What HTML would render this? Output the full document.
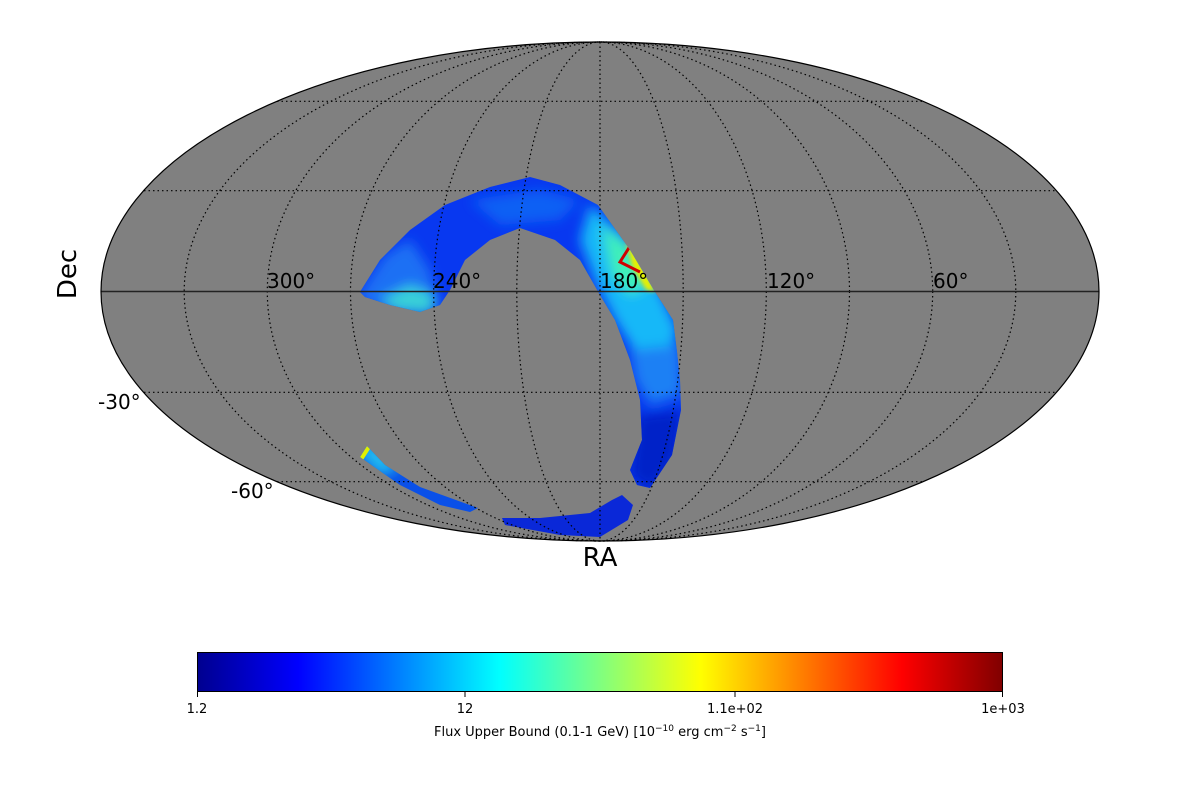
<!DOCTYPE html>
<html><head><meta charset="utf-8"><style>
body{margin:0;background:#fff;width:1200px;height:800px;overflow:hidden}
svg{display:block}
text{font-family:"DejaVu Sans","Liberation Sans",sans-serif}
</style></head><body>
<svg width="1200" height="800" viewBox="0 0 1200 800">
<defs>
<linearGradient id="jet" x1="0" x2="1" y1="0" y2="0">
<stop offset="0" stop-color="#00008f"/>
<stop offset="0.125" stop-color="#0000ff"/>
<stop offset="0.375" stop-color="#00ffff"/>
<stop offset="0.625" stop-color="#ffff00"/>
<stop offset="0.875" stop-color="#ff0000"/>
<stop offset="1" stop-color="#800000"/>
</linearGradient>
<filter id="bl" x="-20%" y="-20%" width="140%" height="140%"><feGaussianBlur stdDeviation="6"/></filter>
<filter id="bs" x="-20%" y="-20%" width="140%" height="140%"><feGaussianBlur stdDeviation="2"/></filter>
<clipPath id="ell"><ellipse cx="600" cy="291.5" rx="499" ry="249.5"/></clipPath>
<clipPath id="arcc"><polygon points="360,292 380,260 410,230 445,205 490,187 530,177 560,185 598,205 630,250 655,292 673,320 677,352 680,380 681,410 672,455 650,488 637,485 630,470 642,440 640,400 630,360 615,320 600,295 580,260 555,240 520,228 490,240 465,260 450,290 440,305 420,312 390,305 365,297"/></clipPath>
<clipPath id="smc"><polygon points="360,457 367,446 385,465 420,487 478,508 470,512 440,505 400,485"/></clipPath>
</defs>
<ellipse cx="600" cy="291.5" rx="499" ry="249.5" fill="#808080"/>
<g clip-path="url(#ell)">
<g clip-path="url(#arcc)">
<rect x="340" y="170" width="360" height="330" fill="#0838f0"/>
<g filter="url(#bl)">
<polygon fill="#1c70f4" points="355,300 385,255 410,240 430,270 440,310 400,315"/>
<polygon fill="#38d0d8" points="380,300 410,285 435,295 430,315 395,310"/>
<polygon fill="#1060f4" points="470,200 540,190 580,200 560,220 500,225"/>
<polygon fill="#18b8f8" points="590,205 630,240 660,290 678,330 670,355 640,360 615,320 595,280 580,240"/>
<polygon fill="#40f0b8" points="602,225 628,245 648,285 630,295 612,275"/>
<polygon fill="#1c80f4" points="630,350 680,345 682,395 650,405 635,380"/>
<polygon fill="#0020c8" points="638,415 682,410 676,460 650,492 630,475"/>
</g>
<polygon fill="#e8f000" filter="url(#bs)" points="626,242 634,248 650,280 656,292 646,290 632,266"/>
<polyline fill="none" stroke="#d00000" stroke-width="3" points="632,243 620,262 640,272"/>
</g>
<!-- bottom band -->
<polygon fill="#0a28d8" points="502,518 540,518 590,513 612,500 622,495 633,505 628,520 600,537 560,535 505,525"/>
<!-- small band -->
<g clip-path="url(#smc)">
<rect x="350" y="440" width="140" height="80" fill="#0a50e8"/>
<polygon fill="#20c0f0" filter="url(#bl)" points="355,450 372,442 400,470 380,475"/>
<polygon fill="#e0f000" points="360,457 367,446 370,449 363,460"/>
</g>
</g>
<g fill="none" stroke="#000" stroke-width="1.2" stroke-dasharray="1.5,3">
<ellipse cx="600" cy="291.5" rx="83.2" ry="249.5"/>
<ellipse cx="600" cy="291.5" rx="166.3" ry="249.5"/>
<ellipse cx="600" cy="291.5" rx="249.5" ry="249.5"/>
<ellipse cx="600" cy="291.5" rx="332.7" ry="249.5"/>
<ellipse cx="600" cy="291.5" rx="415.8" ry="249.5"/>
<line x1="600" y1="42" x2="600" y2="541"/>
<line x1="144" y1="190.7" x2="1056" y2="190.7"/>
<line x1="144" y1="392.3" x2="1056" y2="392.3"/>
<line x1="277" y1="101.3" x2="923" y2="101.3"/>
<line x1="277" y1="481.7" x2="923" y2="481.7"/>
</g>
<line x1="101" y1="291.5" x2="1099" y2="291.5" stroke="#222" stroke-width="1.5"/>
<ellipse cx="600" cy="291.5" rx="499" ry="249.5" fill="none" stroke="#000" stroke-width="1.2"/>
<g font-size="20" fill="#000">
<text x="267" y="288">300°</text>
<text x="433" y="288">240°</text>
<text x="600" y="288">180°</text>
<text x="767" y="288">120°</text>
<text x="933" y="288">60°</text>
<text x="98" y="409">-30°</text>
<text x="231" y="498">-60°</text>
</g>
<text x="600" y="566" font-size="26" text-anchor="middle">RA</text>
<text x="76" y="274" font-size="26" text-anchor="middle" transform="rotate(-90 76 274)">Dec</text>
<rect x="197.5" y="652.5" width="805" height="39" fill="url(#jet)" stroke="#000" stroke-width="1"/>
<g stroke="#000" stroke-width="1">
<line x1="197.5" y1="692" x2="197.5" y2="697"/><line x1="465" y1="692" x2="465" y2="697"/>
<line x1="735" y1="692" x2="735" y2="697"/><line x1="1002.5" y1="692" x2="1002.5" y2="697"/>
</g>
<g font-size="13" text-anchor="middle">
<text x="197" y="713">1.2</text><text x="465" y="713">12</text>
<text x="735" y="713">1.1e+02</text><text x="1003" y="713">1e+03</text>
<text x="600" y="736">Flux Upper Bound (0.1-1 GeV) [10<tspan dy="-5" font-size="9">−10</tspan><tspan dy="5"> erg cm</tspan><tspan dy="-5" font-size="9">−2</tspan><tspan dy="5"> s</tspan><tspan dy="-5" font-size="9">−1</tspan><tspan dy="5">]</tspan></text>
</g>
</svg>
</body></html>
